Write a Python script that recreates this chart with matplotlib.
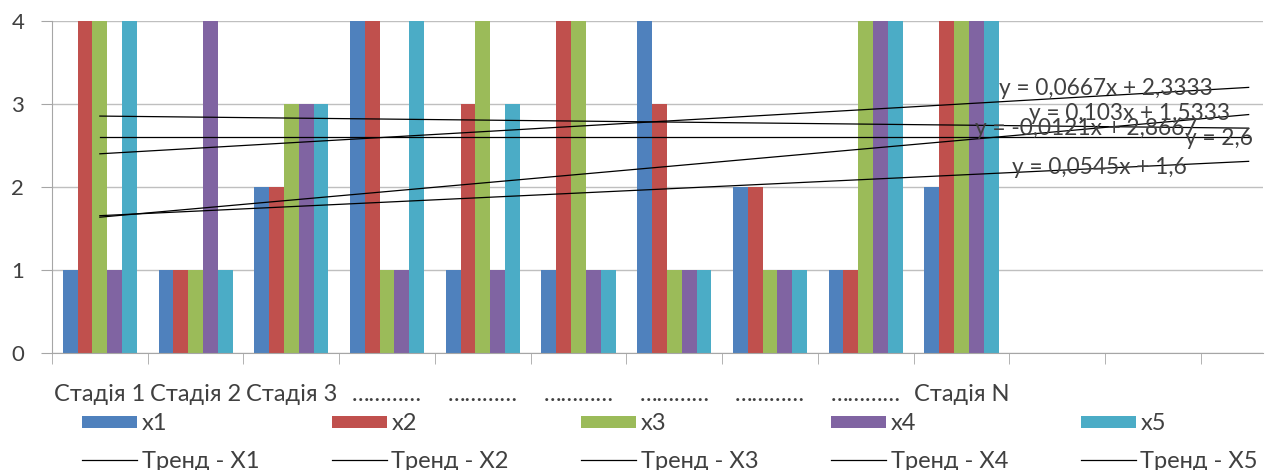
import matplotlib.pyplot as plt
import numpy as np
from matplotlib.lines import Line2D
from matplotlib.patches import Patch

plt.rcParams["font.family"] = ["Lato", "DejaVu Sans"]

categories = ["Стадія 1", "Стадія 2", "Стадія 3", "…………", "…………", "…………",
              "…………", "…………", "…………", "Стадія N"]
empty_slots = ["", "", ""]

series_names = ["x1", "x2", "x3", "x4", "x5"]
trend_names = ["Тренд - X1", "Тренд - X2", "Тренд - X3", "Тренд - X4", "Тренд - X5"]

x1 = [1, 1, 2, 4, 1, 1, 4, 2, 1, 2]
x2 = [4, 1, 2, 4, 3, 4, 3, 2, 1, 4]
x3 = [4, 1, 3, 1, 4, 4, 1, 1, 4, 4]
x4 = [1, 4, 3, 1, 1, 1, 1, 1, 4, 4]
x5 = [4, 1, 3, 4, 3, 1, 1, 1, 4, 4]

forecast_periods = 3
# where Excel dropped the equation labels (category index, value)
eq_label_pos = [(10.44, 2.24), (10.30, 2.71), (10.51, 3.19), (10.76, 2.89), (11.69, 2.59)]

colors = ["#4F81BD", "#C0504D", "#9BBB59", "#8064A2", "#4BACC6"]
text_col = "#404040"
axis_col = "#A6A6A6"


def fmt(v):
    s = f"{v:.4f}".rstrip("0").rstrip(".")
    return s.replace(".", ",")


def equation(slope, intercept):
    if abs(slope) < 1e-9:
        return f"y = {fmt(intercept)}"
    sign = "+" if intercept >= 0 else "-"
    return f"y = {fmt(slope)}x {sign} {fmt(abs(intercept))}"


series = [x1, x2, x3, x4, x5]
n = len(categories)
idx = np.arange(n)
width = 0.155

fig = plt.figure(figsize=(12.77, 4.70), dpi=100)
ax = fig.add_axes([52 / 1277, 1 - 353 / 470, 1211 / 1277, 332 / 470])

handles = []
labels = []
for k, vals in enumerate(series):
    ax.bar(idx + (k - 2) * width, vals, width, color=colors[k], zorder=2)

for k, vals in enumerate(series):
    xs = np.arange(1, n + 1)
    slope, intercept = np.polyfit(xs, vals, 1)
    xt = np.arange(1, n + forecast_periods + 1)
    ax.plot(xt - 1, slope * xt + intercept, color="black", lw=0.9, zorder=3)
    px, py = eq_label_pos[k]
    ax.text(px, py, equation(slope, intercept), ha="center", va="center",
            fontsize=16.3, color=text_col, zorder=4)
    handles += [Patch(facecolor=colors[k]), Line2D([], [], color="black", lw=0.9)]
    labels += [series_names[k], trend_names[k]]

ax.set_ylim(0, 4)
ax.set_xlim(-0.5, 12.15)
ax.set_yticks(range(5))
ax.yaxis.grid(True, color="#BFBFBF", lw=1.0, zorder=0)
ax.set_axisbelow(True)
for side in ["top", "right"]:
    ax.spines[side].set_visible(False)
for side in ["left", "bottom"]:
    ax.spines[side].set_color(axis_col)

all_labels = categories + empty_slots
ax.set_xticks(range(len(all_labels)))
ax.set_xticklabels(all_labels)
ax.set_xticks(np.arange(-0.5, len(all_labels) - 0.5, 1), minor=True)
ax.tick_params(axis="x", which="major", length=0, pad=22, labelsize=17, labelcolor=text_col)
ax.tick_params(axis="x", which="minor", length=8, color=axis_col)
ax.tick_params(axis="y", length=8, color=axis_col, labelsize=16, labelcolor=text_col, pad=12)

fig.legend(handles, labels, ncol=5, loc="upper left", bbox_to_anchor=(72.5 / 1277, 1 - 404 / 470),
           frameon=False, fontsize=17, handlelength=2.33, handleheight=0.42,
           handletextpad=0.2, columnspacing=3.07, labelspacing=0.68, labelcolor=text_col,
           borderaxespad=0)

fig.savefig("out.png", dpi=100)
